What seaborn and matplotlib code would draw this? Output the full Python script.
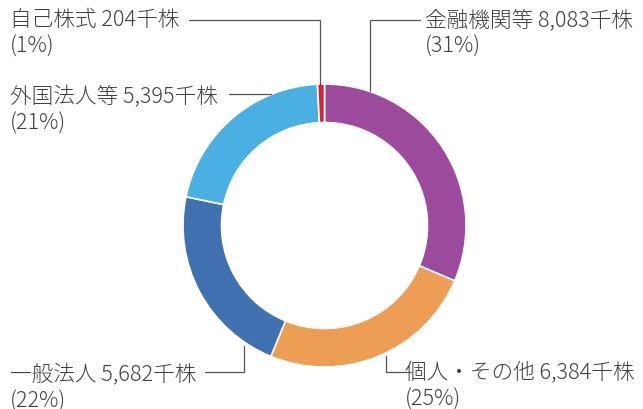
import numpy as np
import seaborn as sns
from matplotlib import pyplot as plt

# shareholder breakdown (thousand shares), clockwise from 12 o'clock
categories = ["金融機関等", "個人・その他", "一般法人", "外国法人等", "自己株式"]
shares = [8083, 6384, 5682, 5395, 204]
colors = ["#9c4a9b", "#ee9d55", "#4170b1", "#4aafe2", "#d42235"]

sns.set_theme(style="white")
plt.rcParams['font.family'] = ['Noto Sans CJK JP', 'DejaVu Sans']

W, H = 643, 410
fig = plt.figure(figsize=(W / 100, H / 100), dpi=100)
ax = fig.add_axes([0, 0, 1, 1])

# donut
ax.pie(shares, colors=colors, startangle=90, counterclock=False,
       radius=141.5, center=(324.5, H - 226.5), frame=True,
       wedgeprops=dict(width=38.5, edgecolor="white", linewidth=1.2))
ax.set_xlim(0, W)
ax.set_ylim(0, H)
ax.set_aspect("equal")
ax.axis("off")

total = sum(shares)
pct = [round(v / total * 100) for v in shares]

# label anchor (left x, first line y in px from top) and leader line path (px)
label_pos = {
    "金融機関等": (425, 20),
    "個人・その他": (405, 373),
    "一般法人": (10, 375),
    "外国法人等": (10, 97),
    "自己株式": (10, 20),
}
leaders = {
    "金融機関等": [(420, 21), (370, 21), (370, 92)],
    "個人・その他": [(411, 373), (386, 373), (386, 357)],
    "一般法人": [(205, 373), (244, 373), (244, 347)],
    "外国法人等": [(229, 95), (271, 95)],
    "自己株式": [(189, 21), (320, 21), (320, 86)],
}

txt_color = "#404040"
fs = 15.6
for name, v, p in zip(categories, shares, pct):
    x, y = label_pos[name]
    ax.text(x, H - y, f"{name} {v:,}千株", ha="left", va="center",
            fontsize=fs, color=txt_color, fontweight="light")
    ax.text(x, H - y - 27, f"({p}%)", ha="left", va="center",
            fontsize=fs, color=txt_color, fontweight="light")
    pts = np.array(leaders[name], dtype=float)
    ax.plot(pts[:, 0], H - pts[:, 1], color="#555555", lw=0.9,
            solid_joinstyle="miter")

fig.savefig("out.png", dpi=100)
